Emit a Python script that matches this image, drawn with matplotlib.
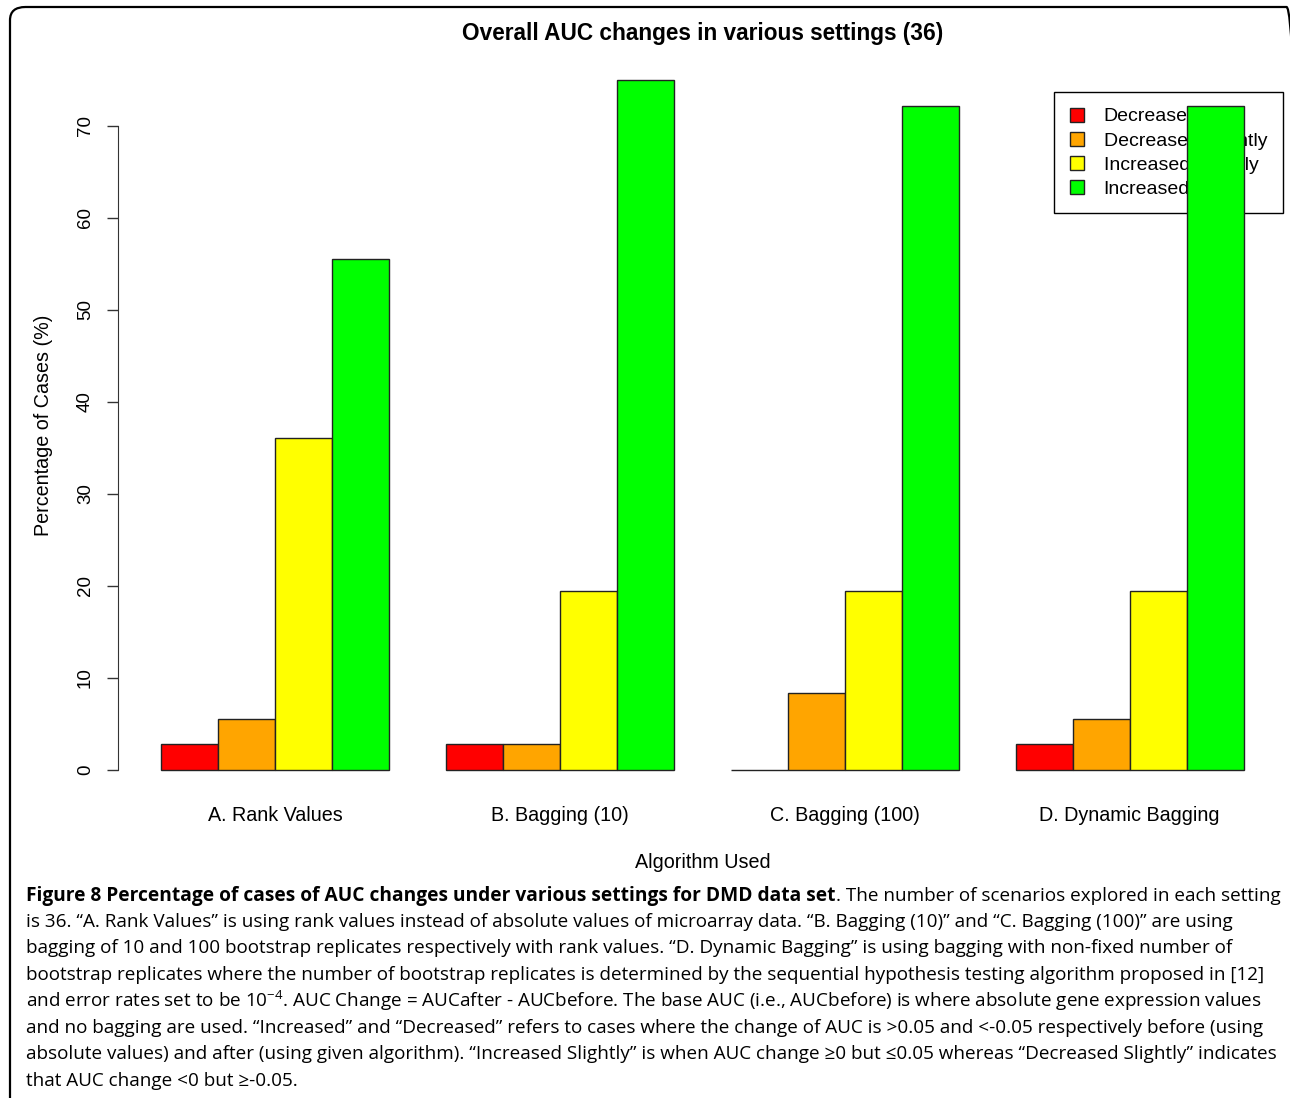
import numpy as np
import matplotlib
matplotlib.use("Agg")
from matplotlib import pyplot as plt
from matplotlib.patches import FancyBboxPatch

W, H = 1290, 1098

settings = ["A. Rank Values", "B. Bagging (10)", "C. Bagging (100)", "D. Dynamic Bagging"]
change_types = ["Decreased", "Decreased Slightly", "Increased Slightly", "Increased"]
decreased = [2.78, 2.78, 0.0, 2.78]
decreased_slightly = [5.56, 2.78, 8.33, 5.56]
increased_slightly = [36.11, 19.44, 19.44, 19.44]
increased = [55.56, 75.0, 72.22, 72.22]
bar_colors = ["#ff0000", "#ffa500", "#ffff00", "#00ff00"]
y_ticks = [0, 10, 20, 30, 40, 50, 60, 70]

caption_bold = "Figure 8 Percentage of cases of AUC changes under various settings for DMD data set"
caption_lines = [
    ". The number of scenarios explored in each setting",
    "is 36. \u201cA. Rank Values\u201d is using rank values instead of absolute values of microarray data. \u201cB. Bagging (10)\u201d and \u201cC. Bagging (100)\u201d are using",
    "bagging of 10 and 100 bootstrap replicates respectively with rank values. \u201cD. Dynamic Bagging\u201d is using bagging with non-fixed number of",
    "bootstrap replicates where the number of bootstrap replicates is determined by the sequential hypothesis testing algorithm proposed in [12]",
    "and error rates set to be 10$^{-4}$. AUC Change = AUCafter - AUCbefore. The base AUC (i.e., AUCbefore) is where absolute gene expression values",
    "and no bagging are used. \u201cIncreased\u201d and \u201cDecreased\u201d refers to cases where the change of AUC is >0.05 and <-0.05 respectively before (using",
    "absolute values) and after (using given algorithm). \u201cIncreased Slightly\u201d is when AUC change \u22650 but \u22640.05 whereas \u201cDecreased Slightly\u201d indicates",
    "that AUC change <0 but \u2265-0.05.",
]

plt.rcParams["font.family"] = ["Liberation Sans", "DejaVu Sans"]
plt.rcParams["mathtext.fontset"] = "custom"
plt.rcParams["mathtext.rm"] = "Open Sans"
plt.rcParams["mathtext.default"] = "regular"

fig = plt.figure(figsize=(W / 100, H / 100), dpi=100)

# frame round the figure, right and bottom edges run off the picture
frame = FancyBboxPatch((10 / W, -0.05), (1292 / W), 1 - 7 / H + 0.05,
                       boxstyle="round,pad=0,rounding_size=0.012",
                       transform=fig.transFigure, fill=False,
                       edgecolor="black", linewidth=1.6)
fig.patches.append(frame)

left, right, top, bottom = 117.7, 1287, 52.4, 797.6
ax = fig.add_axes([left / W, 1 - bottom / H, (right - left) / W, (bottom - top) / H])

series = [decreased, decreased_slightly, increased_slightly, increased]
for k, vals in enumerate(series):
    xs = [1 + g * 5 + k + 0.5 for g in range(len(settings))]
    ax.bar(xs, vals, width=1.0, color=bar_colors[k], edgecolor="#222222",
           linewidth=1.0, zorder=6, label=change_types[k])

ax.set_xlim(0.24, 20.76)
ax.set_ylim(-3, 78)
for s in ["top", "right", "bottom"]:
    ax.spines[s].set_visible(False)
ax.spines["left"].set_bounds(0, 70)
ax.spines["left"].set_color("#333333")
ax.set_yticks(y_ticks)
ax.set_yticklabels([str(t) for t in y_ticks], rotation=90, va="center")
ax.tick_params(axis="y", length=8, width=1, color="#333333", pad=9, labelsize=13.5)
ax.set_xticks([1 + g * 5 + 2 for g in range(len(settings))])
ax.set_xticklabels(settings)
ax.tick_params(axis="x", length=0, pad=6, labelsize=14.2)

ax.set_title("Overall AUC changes in various settings (36)", fontsize=16.3,
             fontweight="bold", pad=9)
ax.set_xlabel("Algorithm Used", fontsize=14.2, labelpad=20)
ax.set_ylabel("Percentage of Cases (%)", fontsize=14.2, labelpad=17)

leg = ax.legend(loc="upper left", bbox_to_anchor=(1054 / W, 1 - 92 / H),
                bbox_transform=fig.transFigure, fancybox=False, framealpha=1,
                edgecolor="black", fontsize=14.0, handlelength=0.75,
                handleheight=0.75, handletextpad=1.0, labelspacing=0.32,
                borderpad=0.8, borderaxespad=0)
leg.get_frame().set_linewidth(1.0)
leg.set_zorder(2)

# caption
cap_font = ["Open Sans", "DejaVu Sans"]
line_y = [896, 922, 948, 975, 1001, 1028, 1054, 1081]
fig.canvas.draw()
renderer = fig.canvas.get_renderer()
t = fig.text(26 / W, 1 - line_y[0] / H, caption_bold, family=cap_font,
             fontweight="bold", fontsize=13.8, va="center")
bb = t.get_window_extent(renderer)
fig.text(bb.x1 / W, 1 - line_y[0] / H, caption_lines[0], family=cap_font,
         fontsize=13.6, va="center")
for y, line in zip(line_y[1:], caption_lines[1:]):
    fig.text(26 / W, 1 - y / H, line, family=cap_font, fontsize=13.6, va="center")

fig.savefig("out.png", dpi=100)
